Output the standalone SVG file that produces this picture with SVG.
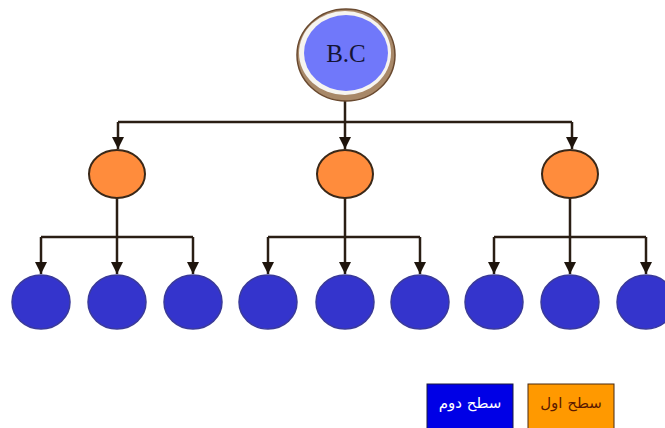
<svg xmlns="http://www.w3.org/2000/svg" width="665" height="428" viewBox="0 0 665 428">
<defs>
<marker id="ah" viewBox="0 0 10 10" refX="10" refY="5" markerWidth="5" markerHeight="5" markerUnits="strokeWidth" orient="auto">
<path d="M0,0 L10,5 L0,10 Z" fill="#1e140c"/>
</marker>
</defs>
<style>
.ln{stroke:#2a1e14;stroke-width:2.5;fill:none}
.ar{stroke:#2a1e14;stroke-width:2.5;fill:none;marker-end:url(#ah)}
.or{fill:#FF8C3C;stroke:#3a2818;stroke-width:2}
.bl{fill:#3434CC;stroke:#3a3a9a;stroke-width:1.5}
</style>
<rect width="665" height="428" fill="#ffffff"/>
<g id="connectors">
<path class="ln" d="M345,100 V122 M118,122 H572"/>
<path class="ar" d="M118,122 V149"/>
<path class="ar" d="M345,122 V149"/>
<path class="ar" d="M572,122 V149"/>
<path class="ln" d="M117,198 V237 M41,237 H193"/>
<path class="ar" d="M41,237 V274"/>
<path class="ar" d="M117,237 V274"/>
<path class="ar" d="M193,237 V274"/>
<path class="ln" d="M345,198 V237 M268,237 H420"/>
<path class="ar" d="M268,237 V274"/>
<path class="ar" d="M345,237 V274"/>
<path class="ar" d="M420,237 V274"/>
<path class="ln" d="M570,198 V237 M494,237 H646"/>
<path class="ar" d="M494,237 V274"/>
<path class="ar" d="M570,237 V274"/>
<path class="ar" d="M646,237 V274"/>
</g>
<g id="root">
<ellipse cx="346" cy="55" rx="49" ry="46" fill="#a88868" stroke="#6a4a30" stroke-width="1.5"/>
<ellipse cx="345" cy="53" rx="46" ry="42" fill="#f6f4f0"/>
<ellipse cx="346" cy="53" rx="42" ry="38" fill="#7078FA"/>
<text x="346" y="62" text-anchor="middle" font-family="Liberation Serif, serif" font-size="25" fill="#141436">B.C</text>
</g>
<g id="l1a"><ellipse class="or" cx="117" cy="174" rx="28" ry="24"/></g>
<g id="l1b"><ellipse class="or" cx="345" cy="174" rx="28" ry="24"/></g>
<g id="l1c"><ellipse class="or" cx="570" cy="174" rx="28" ry="24"/></g>
<g id="l2a"><ellipse class="bl" cx="41" cy="302" rx="29" ry="27"/></g>
<g id="l2b"><ellipse class="bl" cx="117" cy="302" rx="29" ry="27"/></g>
<g id="l2c"><ellipse class="bl" cx="193" cy="302" rx="29" ry="27"/></g>
<g id="l2d"><ellipse class="bl" cx="268" cy="302" rx="29" ry="27"/></g>
<g id="l2e"><ellipse class="bl" cx="345" cy="302" rx="29" ry="27"/></g>
<g id="l2f"><ellipse class="bl" cx="420" cy="302" rx="29" ry="27"/></g>
<g id="l2g"><ellipse class="bl" cx="494" cy="302" rx="29" ry="27"/></g>
<g id="l2h"><ellipse class="bl" cx="570" cy="302" rx="29" ry="27"/></g>
<g id="l2i"><ellipse class="bl" cx="646" cy="302" rx="29" ry="27"/></g>
<g id="legend-blue">
<rect x="427" y="384" width="86" height="50" fill="#0000E6" stroke="#1a1a40" stroke-width="1"/>
<text x="470" y="408" text-anchor="middle" font-family="DejaVu Sans, sans-serif" font-size="15" fill="#ffffff">سطح دوم</text>
</g>
<g id="legend-orange">
<rect x="528" y="384" width="86" height="50" fill="#FF9900" stroke="#4a2a10" stroke-width="1"/>
<text x="571" y="408" text-anchor="middle" font-family="DejaVu Sans, sans-serif" font-size="15" fill="#5a1a00">سطح اول</text>
</g>
</svg>
